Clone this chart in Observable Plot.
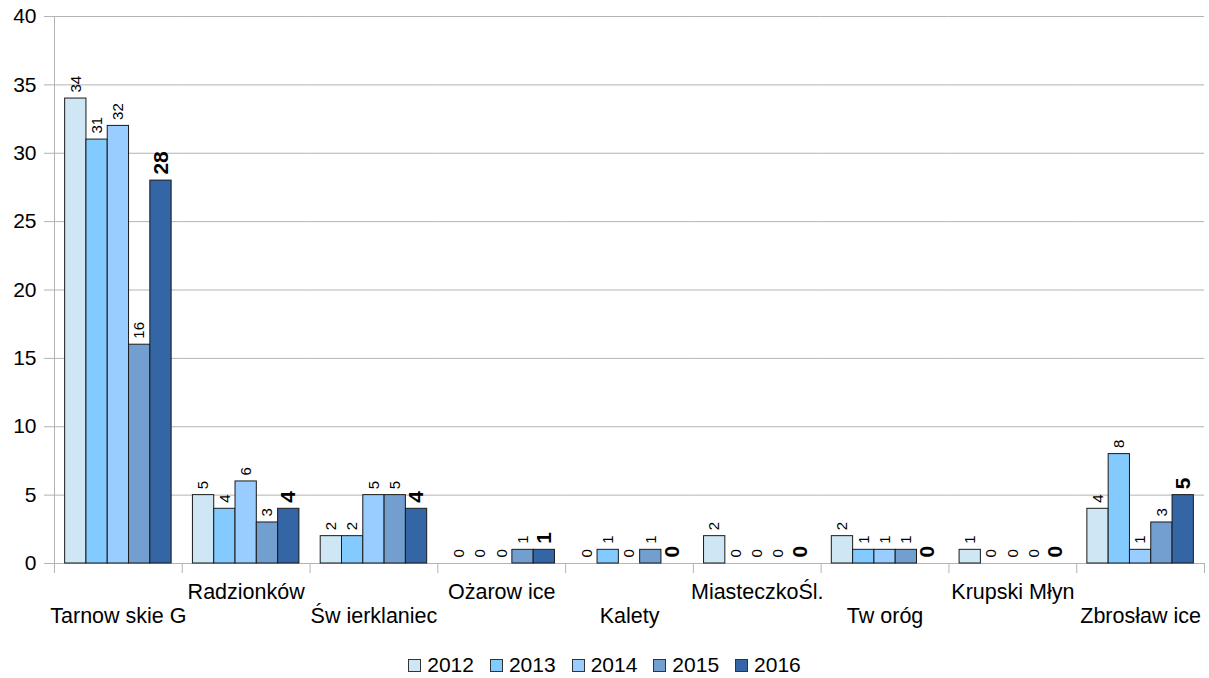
<!DOCTYPE html>
<html><head><meta charset="utf-8">
<script src="https://cdn.jsdelivr.net/npm/d3@7"></script>
<script src="https://cdn.jsdelivr.net/npm/@observablehq/plot@0.6"></script>
<style>
body{margin:0;background:#fff;font-family:"Liberation Sans",Arial,sans-serif;}
#legend{display:flex;justify-content:center;align-items:center;height:50px;font-size:21px;color:#000;}
.item{display:flex;align-items:center;margin:0 8px;}
.sw{width:11px;height:11px;border:1px solid #333;margin-right:6px;}
</style></head><body><div id="chart"></div><div id="legend"></div>
<script>
const categories = ["Tarnow skie G","Radzionków","Św ierklaniec","Ożarow ice","Kalety","MiasteczkoŚl.","Tw oróg","Krupski Młyn","Zbrosław ice"];
const years = ["2012","2013","2014","2015","2016"];
const v2012 = [34,5,2,0,0,2,2,1,4];
const v2013 = [31,4,2,0,1,0,1,0,8];
const v2014 = [32,6,5,0,0,0,1,0,1];
const v2015 = [16,3,5,1,1,0,1,0,3];
const v2016 = [28,4,4,1,0,0,0,0,5];
const yTicks = [0,5,10,15,20,25,30,35,40];
const colors = ["#cfe7f5","#83caff","#99ccff","#729fcf","#3465a4"];

const series = [v2012,v2013,v2014,v2015,v2016];
const data = categories.flatMap((c,i)=>years.map((y,j)=>({category:c, year:y, value:series[j][i]})));

const W=1209, H=640, mL=54, mR=5, mT=16, mB=77;
const facetW=(W-mL-mR)/categories.length;
const step=facetW/(years.length+1);
const grey="#b3b3b3";

const chart = Plot.plot({
  width:W, height:H, marginLeft:mL, marginRight:mR, marginTop:mT, marginBottom:mB,
  style:{fontFamily:"'Liberation Sans', Arial, sans-serif", fontSize:"21px", background:"#fff", color:"#000"},
  fx:{domain:categories, padding:0, round:false, axis:null, label:null},
  x:{domain:years, paddingInner:0, paddingOuter:0.5, round:false, axis:null, label:null},
  y:{domain:[0,40], label:null, axis:null},
  color:{domain:years, range:colors},
  marks:[
    Plot.gridY(yTicks,{stroke:grey, strokeOpacity:1}),
    Plot.axisY(yTicks,{stroke:grey, fill:"#000", tickSize:10, tickPadding:8, fontSize:21, label:null}),
    Plot.ruleX([categories[0]],{fx:d=>d, x:()=>years[0], dx:-step, insetBottom:-10, stroke:grey}),
    Plot.ruleX(categories,{fx:d=>d, x:()=>years[0], dx:-step, y1:0, y2:0, insetBottom:-10, stroke:grey}),
    Plot.ruleX([categories[categories.length-1]],{fx:d=>d, x:()=>years[years.length-1], dx:step, y1:0, y2:0, insetBottom:-10, stroke:grey}),
    Plot.barY(data.filter(d=>d.value>0),{fx:"category", x:"year", y:"value", fill:"year", stroke:"#1a1a1a", strokeWidth:1}),
    Plot.text(data.filter(d=>d.year!=="2016"),{fx:"category", x:"year", y:"value", text:d=>String(d.value), rotate:-90, textAnchor:"start", dy:-6, fontSize:15, fill:"#000"}),
    Plot.text(data.filter(d=>d.year==="2016"),{fx:"category", x:"year", y:"value", text:d=>String(d.value), rotate:-90, textAnchor:"start", dy:-6, fontSize:21, fontWeight:"bold", fill:"#000"}),
    Plot.text(categories.filter((c,i)=>i%2===1),{fx:d=>d, text:d=>d, frameAnchor:"bottom", dy:35, fontSize:21.5, fill:"#000"}),
    Plot.text(categories.filter((c,i)=>i%2===0),{fx:d=>d, text:d=>d, frameAnchor:"bottom", dy:59, fontSize:21.5, fill:"#000"})
  ]
});
document.getElementById("chart").appendChild(chart);

const legend=document.getElementById("legend");
years.forEach((y,i)=>{
  const it=document.createElement("div"); it.className="item";
  const sw=document.createElement("div"); sw.className="sw"; sw.style.background=colors[i];
  const t=document.createElement("span"); t.textContent=y;
  it.appendChild(sw); it.appendChild(t); legend.appendChild(it);
});
</script></body></html>
